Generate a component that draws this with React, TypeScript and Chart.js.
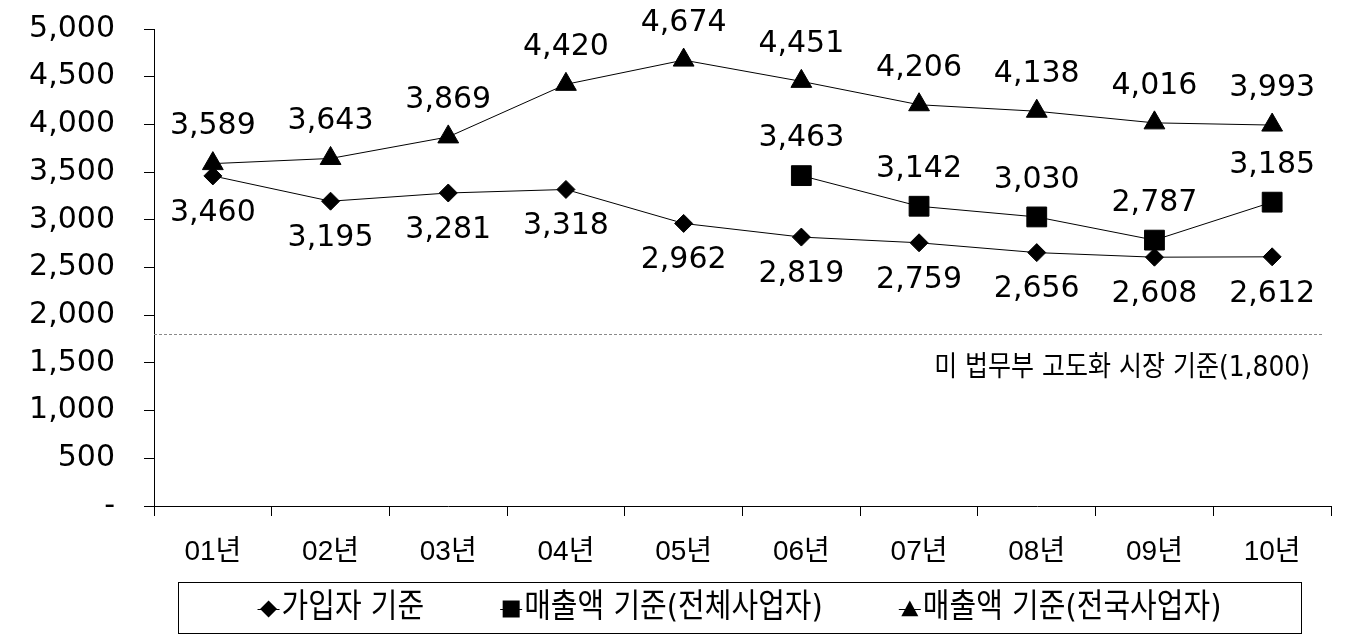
import React, { useEffect, useRef } from "react";
import { Chart, registerables } from "chart.js";

Chart.register(...registerables);

const categories = ["01년", "02년", "03년", "04년", "05년", "06년", "07년", "08년", "09년", "10년"];
const subscriberBasis = [3460, 3195, 3281, 3318, 2962, 2819, 2759, 2656, 2608, 2612];
const salesAllOperators = [null, null, null, null, null, 3463, 3142, 3030, 2787, 3185];
const salesNationalOperators = [3589, 3643, 3869, 4420, 4674, 4451, 4206, 4138, 4016, 3993];
const seriesNames = ["가입자 기준", "매출액 기준(전체사업자)", "매출액 기준(전국사업자)"];
const yTicks = [0, 500, 1000, 1500, 2000, 2500, 3000, 3500, 4000, 4500, 5000];
const referenceValue = 1800;
const referenceLabel = "미 법무부 고도화 시장 기준(1,800)";

const FAMILY = 'DejaVu Sans, "Noto Sans CJK KR", sans-serif';
const XFAMILY = '"Liberation Sans", "Noto Sans CJK KR", sans-serif';

function fmt(v: number) {
  return v.toLocaleString("en-US");
}

function drawMarker(ctx: CanvasRenderingContext2D, style: string, x: number, y: number, s: number) {
  ctx.beginPath();
  if (style === "rectRot") {
    ctx.moveTo(x - s, y);
    ctx.lineTo(x, y - s);
    ctx.lineTo(x + s, y);
    ctx.lineTo(x, y + s);
  } else if (style === "rect") {
    ctx.rect(x - s, y - s, 2 * s, 2 * s);
  } else {
    ctx.moveTo(x, y - s);
    ctx.lineTo(x + s, y + s * 0.85);
    ctx.lineTo(x - s, y + s * 0.85);
  }
  ctx.closePath();
  ctx.fill();
}

function stretchedText(ctx: CanvasRenderingContext2D, text: string, x: number, y: number, sy: number) {
  ctx.save();
  ctx.translate(x, y);
  ctx.scale(1, sy);
  ctx.fillText(text, 0, 0);
  ctx.restore();
}

const labelPlugin = {
  id: "labelsAndRef",
  afterDatasetsDraw(chart: any) {
    const ctx = chart.ctx as CanvasRenderingContext2D;
    const area = chart.chartArea;
    const yScale = chart.scales.y;
    ctx.save();
    // reference line
    const ry = Math.round(yScale.getPixelForValue(referenceValue)) + 0.5;
    ctx.strokeStyle = "#8a8a8a";
    ctx.lineWidth = 1;
    ctx.setLineDash([3, 2]);
    ctx.beginPath();
    ctx.moveTo(area.left, ry);
    ctx.lineTo(area.right - 8, ry);
    ctx.stroke();
    ctx.setLineDash([]);
    ctx.fillStyle = "#000";
    ctx.font = `25px ${FAMILY}`;
    ctx.textAlign = "right";
    ctx.textBaseline = "middle";
    stretchedText(ctx, referenceLabel, area.right - 21, ry + 34, 1.12);

    // data labels
    ctx.font = `30px ${FAMILY}`;
    ctx.textAlign = "center";
    const offsets = [37, -37, -37];
    chart.data.datasets.forEach((ds: any, di: number) => {
      const meta = chart.getDatasetMeta(di);
      meta.data.forEach((pt: any, i: number) => {
        const v = ds.data[i];
        if (v === null || v === undefined) return;
        ctx.fillText(fmt(v), pt.x, pt.y + offsets[di]);
      });
    });

    // legend
    const boxL = 178, boxT = 582, boxW = 1123, boxH = 51;
    ctx.strokeStyle = "#000";
    ctx.lineWidth = 1;
    ctx.strokeRect(boxL + 0.5, boxT + 0.5, boxW, boxH);
    ctx.font = `29px ${FAMILY}`;
    ctx.textAlign = "left";
    const styles = ["rectRot", "rect", "triangle"];
    const sizes = [8.5, 8.5, 8.5];
    const markerHalf = 11;
    const textGap = 2;
    const itemGap = 76;
    const widths = seriesNames.map((n) => markerHalf * 2 + textGap + ctx.measureText(n).width);
    const total = widths.reduce((a, b) => a + b, 0) + itemGap * (seriesNames.length - 1);
    let x = boxL + (boxW - total) / 2;
    const cy = boxT + boxH / 2 + 1.5;
    seriesNames.forEach((n, i) => {
      const mx = x + markerHalf;
      ctx.beginPath();
      ctx.moveTo(mx - markerHalf, Math.round(cy) + 0.5);
      ctx.lineTo(mx + markerHalf, Math.round(cy) + 0.5);
      ctx.stroke();
      ctx.fillStyle = "#000";
      drawMarker(ctx, styles[i], mx, cy, sizes[i]);
      stretchedText(ctx, n, x + markerHalf * 2 + textGap, cy, 1.12);
      x += widths[i] + itemGap;
    });
    ctx.restore();
  },
};

export default function App() {
  const ref = useRef<HTMLCanvasElement | null>(null);
  useEffect(() => {
    if (!ref.current) return;
    const common = {
      borderColor: "#000",
      borderWidth: 1,
      pointBackgroundColor: "#000",
      pointBorderColor: "#000",
      pointBorderWidth: 1,
      fill: false,
      tension: 0,
      spanGaps: false,
    };
    const chart = new Chart(ref.current, {
      type: "line",
      data: {
        labels: categories,
        datasets: [
          { ...common, label: seriesNames[0], data: subscriberBasis, pointStyle: "rectRot", pointRadius: 9 },
          { ...common, label: seriesNames[1], data: salesAllOperators, pointStyle: "rect", pointRadius: 14 },
          { ...common, label: seriesNames[2], data: salesNationalOperators, pointStyle: "triangle", pointRadius: 12 },
        ],
      },
      options: {
        responsive: false,
        animation: false,
        events: [],
        layout: { autoPadding: false, padding: { left: 0, top: 29, right: 15, bottom: 61 } },
        plugins: { legend: { display: false }, tooltip: { enabled: false }, title: { display: false } },
        scales: {
          x: {
            type: "category",
            offset: true,
            grid: { offset: true, drawOnChartArea: false, drawTicks: true, tickLength: 10, color: "#000", lineWidth: 1 },
            border: { display: true, color: "#000", width: 1 },
            ticks: { color: "#000", font: { family: XFAMILY, size: 28 }, padding: 19, maxRotation: 0, autoSkip: false },
            afterFit: (s: any) => { s.height = 70; s.paddingLeft = 0; s.paddingRight = 0; },
          },
          y: {
            min: 0,
            max: 5000,
            afterBuildTicks: (s: any) => { s.ticks = yTicks.map((v) => ({ value: v })); },
            grid: { drawOnChartArea: false, drawTicks: true, tickLength: 10, color: "#000", lineWidth: 1 },
            border: { display: true, color: "#000", width: 1 },
            ticks: {
              color: "#000",
              font: { family: FAMILY, size: 30 },
              padding: 29,
              callback: (v: any) => (Number(v) === 0 ? "-" : fmt(Number(v))),
            },
            afterFit: (s: any) => { s.width = 154; s.paddingTop = 0; s.paddingBottom = 0; },
          },
        },
      },
      plugins: [labelPlugin],
    } as any);
    return () => chart.destroy();
  }, []);
  return (
    <div style={{ position: "fixed", left: 0, top: 0, width: 1346, height: 637, background: "#fff" }}>
      <canvas ref={ref} width={1346} height={637} style={{ display: "block" }} />
    </div>
  );
}
